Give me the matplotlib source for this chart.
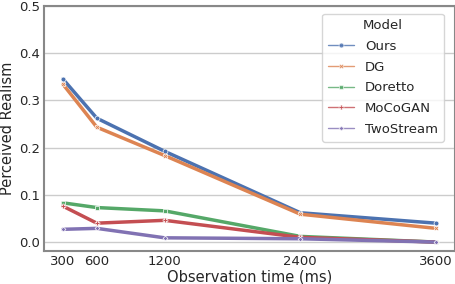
import matplotlib
matplotlib.use("Agg")
import matplotlib.pyplot as plt
import pandas as pd
import seaborn as sns

times = [300, 600, 1200, 2400, 3600]
models = ["Ours", "DG", "Doretto", "MoCoGAN", "TwoStream"]
ours = [0.345, 0.262, 0.192, 0.062, 0.040]
dg = [0.334, 0.243, 0.183, 0.059, 0.029]
doretto = [0.083, 0.073, 0.066, 0.012, 0.0]
mocogan = [0.076, 0.040, 0.046, 0.010, 0.0]
twostream = [0.027, 0.029, 0.009, 0.007, 0.0]

values = [ours, dg, doretto, mocogan, twostream]
rows = []
for name, vals in zip(models, values):
    for t, v in zip(times, vals):
        rows.append({"Observation time (ms)": t, "Perceived Realism": v, "Model": name})
df = pd.DataFrame(rows)

sns.set_theme(style="whitegrid", palette="deep")
fig, ax = plt.subplots(figsize=(4.56, 2.84), dpi=100)
sns.lineplot(data=df, x="Observation time (ms)", y="Perceived Realism", hue="Model",
             style="Model", markers=True, dashes=False, linewidth=2.5, markersize=3.5,
             markeredgecolor="white", markeredgewidth=0.5, ax=ax)

ax.set_xticks(times)
ax.set_ylim(-0.019, 0.5)
ax.set_yticks([0.0, 0.1, 0.2, 0.3, 0.4, 0.5])
ax.tick_params(labelsize=9.5, length=0, pad=3)
ax.set_xlabel("Observation time (ms)", fontsize=10.5, labelpad=1)
ax.set_ylabel("Perceived Realism", fontsize=10.5, labelpad=3)
ax.grid(axis="x", visible=False)
for s in ax.spines.values():
    s.set_color("#888888")
    s.set_linewidth(1.5)

leg = ax.legend(title="Model", loc="upper right", fontsize=9.5, title_fontsize=9.5,
                handlelength=2.0, handletextpad=0.8, borderpad=0.45, labelspacing=0.58,
                bbox_to_anchor=(0.99, 0.995))
for h in leg.legend_handles:
    h.set_linewidth(1.0)
    h.set_alpha(0.8)

fig.subplots_adjust(left=0.097, right=0.997, top=0.98, bottom=0.116)
fig.savefig("out.png", dpi=100)
